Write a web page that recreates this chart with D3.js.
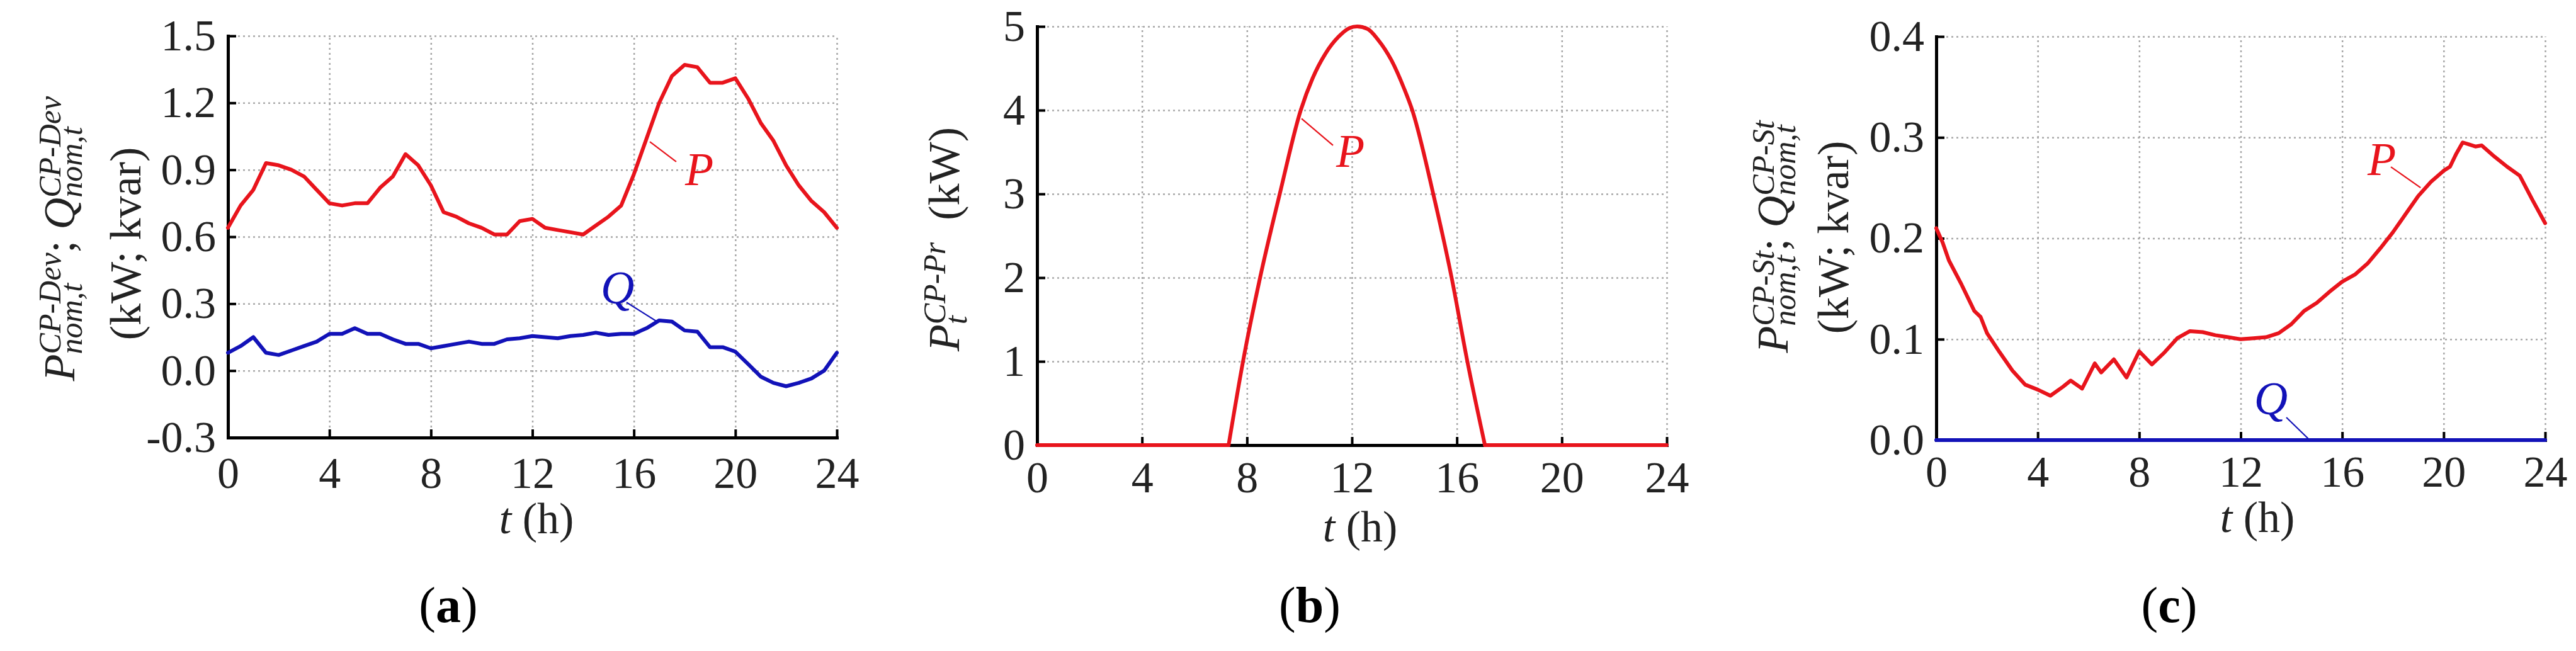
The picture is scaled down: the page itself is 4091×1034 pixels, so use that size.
<!DOCTYPE html>
<html>
<head>
<meta charset="utf-8">
<script src="https://cdn.jsdelivr.net/npm/d3@7"></script>
<style>
body{margin:0;background:#fff}
svg{display:block}
text{font-family:"Liberation Serif","DejaVu Serif",serif;fill:#222}
</style>
</head>
<body>
<svg id="chart" width="4091" height="1034"></svg>
<script>
var hourTicks = [0,4,8,12,16,20,24];

// (a) devices, half-hour steps
var devHours = [0,0.5,1,1.5,2,2.5,3,3.5,4,4.5,5,5.5,6,6.5,7,7.5,8,8.5,9,9.5,10,10.5,11,11.5,12,
                12.5,13,13.5,14,14.5,15,15.5,16,16.5,17,17.5,18,18.5,19,19.5,20,20.5,21,21.5,22,22.5,23,23.5,24];
var devP = [0.64,0.74,0.81,0.93,0.92,0.90,0.87,0.81,0.75,0.74,0.75,0.75,0.82,0.87,0.97,0.92,0.83,0.71,0.69,0.66,
            0.64,0.61,0.61,0.67,0.68,0.64,0.63,0.62,0.61,0.65,0.69,0.74,0.88,1.04,1.20,1.32,1.37,1.36,1.29,1.29,
            1.31,1.22,1.11,1.03,0.92,0.83,0.76,0.71,0.64];
var devQ = [0.08,0.11,0.15,0.08,0.07,0.09,0.11,0.13,0.165,0.165,0.19,0.165,0.165,0.14,0.12,0.12,0.10,0.11,0.12,0.13,
            0.12,0.12,0.14,0.145,0.155,0.15,0.145,0.155,0.16,0.17,0.16,0.165,0.165,0.19,0.225,0.22,0.18,0.175,0.105,0.105,
            0.085,0.03,-0.027,-0.055,-0.07,-0.055,-0.035,0.0,0.08];
var devTicks = [-0.3,0,0.3,0.6,0.9,1.2,1.5];

// (b) production
var prHours = [0,7.3,7.85,8.5,9.25,10.05,10.5,11,11.5,11.9,12.2,12.6,13,13.5,14,14.3,15.1,15.8,16.4,17.07,24];
var prP = [0,0,1,2,3,4,4.38,4.68,4.88,4.98,5,4.97,4.84,4.6,4.25,4,3,2,1,0,0];
var prTicks = [0,1,2,3,4,5];

// (c) storage
var stHours = [0,0.25,0.5,1,1.5,1.75,2,2.5,3,3.5,4,4.5,5,5.3,5.75,6.25,6.5,7,7.5,8,8.5,9,9.5,10,10.5,11,11.5,12,
               12.5,13,13.5,14,14.5,15,15.5,16,16.5,17,17.5,18,18.5,19,19.5,20,20.25,20.5,20.75,21,21.25,21.5,22,22.5,23,23.5,24];
var stP = [0.210,0.196,0.178,0.154,0.128,0.122,0.106,0.087,0.069,0.055,0.050,0.044,0.053,0.059,0.051,0.076,0.067,0.080,
           0.062,0.088,0.075,0.087,0.101,0.108,0.107,0.104,0.102,0.100,0.101,0.102,0.106,0.115,0.128,0.136,0.147,0.157,
           0.164,0.175,0.190,0.206,0.224,0.242,0.256,0.267,0.271,0.284,0.295,0.293,0.291,0.292,0.281,0.271,0.262,0.238,0.215];
var stQHours = [0,24];
var stQ = [0,0];
var stTicks = [0,0.1,0.2,0.3,0.4];

var red = "#e8141c";
var blue = "#1212b8";
var svg = d3.select("#chart");

var drawPanel = function(p)
{
    var x = d3.scaleLinear().domain([0,24]).range([p.left,p.right]);
    var y = d3.scaleLinear().domain(p.yDomain).range([p.bottom,p.top]);
    var g = svg.append("g");

    //dotted grid
    var styleGrid = function(s)
    {
        s.select(".domain").remove();
        s.selectAll("line").attr("stroke","#a8a8a8").attr("stroke-width",2.5).attr("stroke-dasharray","3,5");
    }
    g.append("g").attr("transform","translate(0,"+p.bottom+")")
        .call(d3.axisBottom(x).tickValues(hourTicks).tickSize(-(p.bottom-p.top)).tickFormat(""))
        .call(styleGrid);
    g.append("g").attr("transform","translate("+p.left+",0)")
        .call(d3.axisLeft(y).tickValues(p.yTicks).tickSize(-(p.right-p.left)).tickFormat(""))
        .call(styleGrid);

    //axes, ticks pointing inward
    var styleAxis = function(s)
    {
        s.select(".domain").attr("stroke","#000").attr("stroke-width",5).attr("stroke-linecap","square");
        s.selectAll(".tick line").attr("stroke","#000").attr("stroke-width",4);
        s.selectAll("text").attr("font-size",70).attr("fill","#222");
    }
    g.append("g").attr("transform","translate("+p.left+",0)")
        .call(d3.axisLeft(y).tickValues(p.yTicks).tickSize(-13).tickSizeOuter(0).tickPadding(19)
              .tickFormat(function(d){return d.toFixed(p.digits)}))
        .call(styleAxis);
    g.append("g").attr("transform","translate(0,"+p.bottom+")")
        .call(d3.axisBottom(x).tickValues(hourTicks).tickSize(-13).tickSizeOuter(0).tickPadding(p.xPad))
        .call(styleAxis);

    var line = d3.line()
        .x(function(d){return x(d[0])})
        .y(function(d){return y(d[1])});
    var smoothLine = d3.line()
        .x(function(d){return x(d[0])})
        .y(function(d){return y(d[1])})
        .curve(d3.curveMonotoneX);

    p.series.forEach(function(s)
    {
        var pts = d3.zip(s.hours,s.values);
        var parts = [[pts,line]];
        if (s.hump)
        {
            // flat zero runs straight, the bell itself smooth
            var i0 = d3.min(pts.map(function(d,i){return d[1] > 0 ? i : Infinity})) - 1;
            var i1 = d3.max(pts.map(function(d,i){return d[1] > 0 ? i : -1})) + 1;
            parts = [[pts.slice(0,i0+1),line],[pts.slice(i0,i1+1),smoothLine],[pts.slice(i1),line]];
        }
        parts.forEach(function(part)
        {
            g.append("path")
                .datum(part[0])
                .attr("fill","none")
                .attr("stroke",s.color)
                .attr("stroke-width",6)
                .attr("stroke-linejoin","round")
                .attr("stroke-linecap","round")
                .attr("d",part[1]);
        })
    })

    //curve names with leader lines
    p.notes.forEach(function(n)
    {
        g.append("line")
            .attr("x1",x(n.from[0])).attr("y1",y(n.from[1]))
            .attr("x2",x(n.to[0])).attr("y2",y(n.to[1]))
            .attr("stroke",n.color).attr("stroke-width",2.2);
        g.append("text")
            .attr("x",x(n.at[0])).attr("y",y(n.at[1]))
            .attr("font-size",74).attr("font-style","italic")
            .style("fill",n.color)
            .text(n.label);
    })

    g.append("text")
        .attr("x",p.tx).attr("y",p.ty)
        .attr("text-anchor","middle").attr("font-size",70)
        .call(function(t)
        {
            t.append("tspan").attr("font-style","italic").text("t");
            t.append("tspan").text("\u00a0(h)");
        });

    g.append("text")
        .attr("x",p.capX).attr("y",988)
        .attr("text-anchor","middle").attr("font-size",80).style("fill","#000")
        .call(function(t)
        {
            t.append("tspan").text("(");
            t.append("tspan").attr("font-weight","bold").text(p.cap);
            t.append("tspan").text(")");
        });
}

// symbol with stacked superscript / subscript, returns dx needed after it
var addScripted = function(t, base, sup, sub, dx)
{
    var b = t.append("tspan").attr("font-style","italic").text(base);
    if (dx) b.attr("dx",dx).attr("dy",-12);
    var supT = t.append("tspan").attr("font-style","italic").attr("font-size",50).attr("dy",-22).text(sup);
    var subT = t.append("tspan").attr("font-style","italic").attr("font-size",50).attr("dy",34).text(sub);
    var supLen = supT.node().getComputedTextLength();
    var subLen = subT.node().getComputedTextLength();
    subT.attr("dx",-supLen);
    return Math.max(supLen,subLen) - subLen;
}

var yLabel = function(px, py)
{
    return svg.append("text")
        .attr("transform","translate("+px+","+py+") rotate(-90)")
        .attr("text-anchor","middle")
        .attr("font-size",70);
}

drawPanel({
    left:362, right:1329, top:57, bottom:695, xPad:30,
    yDomain:[-0.3,1.5], yTicks:devTicks, digits:1,
    series:[
        {hours:devHours, values:devP, color:red},
        {hours:devHours, values:devQ, color:blue}
    ],
    notes:[
        {label:"P", color:red, at:[18.02,0.83], from:[16.63,1.026], to:[17.67,0.936]},
        {label:"Q", color:blue, at:[14.69,0.30], from:[15.71,0.306], to:[16.88,0.222]}
    ],
    tx:852, ty:847, cap:"a", capX:712
});

drawPanel({
    left:1647, right:2647, top:42, bottom:707, xPad:25,
    yDomain:[0,5], yTicks:prTicks, digits:0,
    series:[
        {hours:prHours, values:prP, color:red, hump:true}
    ],
    notes:[
        {label:"P", color:red, at:[11.4,3.32], from:[10.08,3.9], to:[11.28,3.58]}
    ],
    tx:2160, ty:860, cap:"b", capX:2080
});

drawPanel({
    left:3075, right:4042, top:58, bottom:699, xPad:24,
    yDomain:[0,0.4], yTicks:stTicks, digits:1,
    series:[
        {hours:stHours, values:stP, color:red},
        {hours:stQHours, values:stQ, color:blue}
    ],
    notes:[
        {label:"P", color:red, at:[17.0,0.2627], from:[17.92,0.2708], to:[19.09,0.2502]},
        {label:"Q", color:blue, at:[12.53,0.0256], from:[13.8,0.0225], to:[14.72,0]}
    ],
    tx:3585, ty:845, cap:"c", capX:3445
});

// y axis titles
var la = yLabel(118,379);
var d1 = addScripted(la,"P","CP-Dev","nom,t");
la.append("tspan").attr("dx",d1).attr("dy",-12).text(";\u00a0");
addScripted(la,"Q","CP-Dev","nom,t");
yLabel(223,387).text("(kW; kvar)");

var lb = yLabel(1523,380);
var d2 = addScripted(lb,"P","CP-Pr","t");
lb.append("tspan").attr("dx",d2).attr("dy",-12).text("\u00a0\u00a0(kW)");

var lc = yLabel(2839,376);
var d3c = addScripted(lc,"P","CP-St","nom,t");
lc.append("tspan").attr("dx",d3c).attr("dy",-12).text(";\u00a0");
addScripted(lc,"Q","CP-St","nom,t");
yLabel(2935,377).text("(kW; kvar)");
</script>
</body>
</html>
